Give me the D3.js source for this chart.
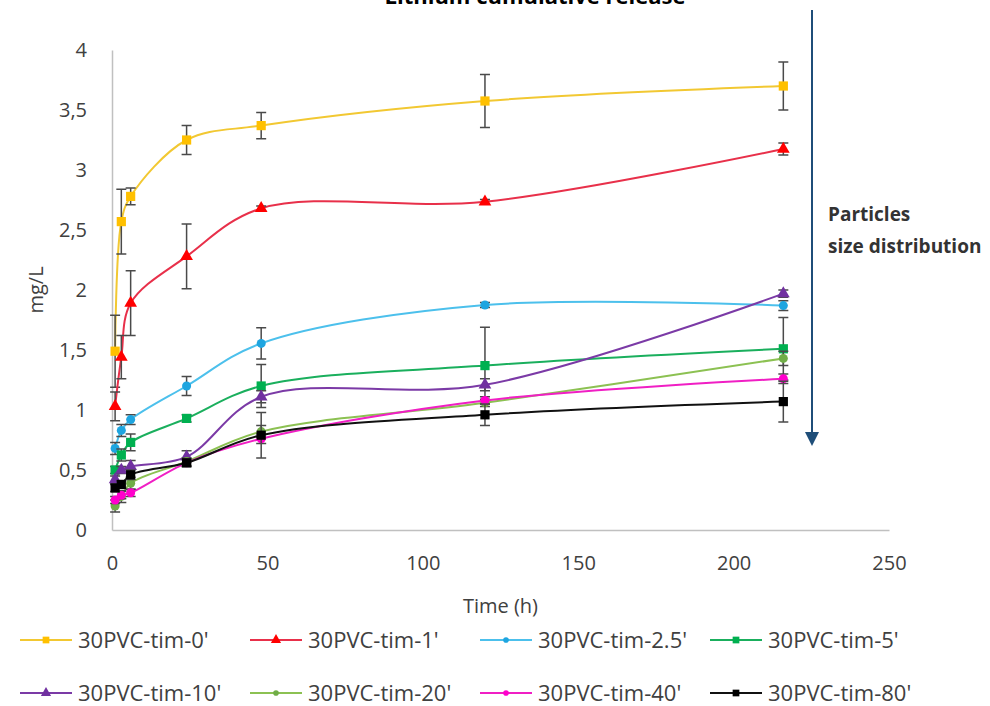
<!DOCTYPE html>
<html>
<head>
<meta charset="utf-8">
<script src="https://cdn.jsdelivr.net/npm/d3@7"></script>
<style>
  body { margin: 0; background: #fff; }
  svg { font-family: "Open Sans", sans-serif; }
</style>
</head>
<body>
<script>
// Datos
var tiempos = [1, 3, 6, 24, 48, 120, 216];
var nombres = ["30PVC-tim-0'", "30PVC-tim-1'", "30PVC-tim-2.5'", "30PVC-tim-5'",
               "30PVC-tim-10'", "30PVC-tim-20'", "30PVC-tim-40'", "30PVC-tim-80'"];

var tim0  = [1.49, 2.57, 2.78, 3.25, 3.37, 3.575, 3.70];
var tim1  = [1.03, 1.44, 1.89, 2.28, 2.68, 2.735, 3.175];
var tim25 = [0.68, 0.83, 0.92, 1.20, 1.555, 1.875, 1.87];
var tim5  = [0.50, 0.625, 0.73, 0.93, 1.20, 1.37, 1.51];
var tim10 = [0.42, 0.50, 0.53, 0.61, 1.11, 1.21, 1.97];
var tim20 = [0.20, 0.28, 0.39, 0.57, 0.82, 1.06, 1.43];
var tim40 = [0.25, 0.29, 0.31, 0.56, 0.76, 1.08, 1.26];
var tim80 = [0.35, 0.38, 0.46, 0.56, 0.79, 0.96, 1.07];

// desviaciones (barras de error)
var err0  = [0.30, 0.27, 0.07, 0.12, 0.11, 0.22, 0.20];
var err1  = [0.12, 0.18, 0.27, 0.27, 0.02, 0.02, 0.05];
var err25 = [0.05, 0.05, 0.04, 0.08, 0.13, 0.02, 0.04];
var err5  = [0.03, 0.05, 0.07, 0.03, 0.18, 0.32, 0.26];
var err10 = [0.03, 0.03, 0.05, 0.05, 0.05, 0.05, 0.03];
var err20 = [0.05, 0.05, 0.05, 0.03, 0.05, 0.03, 0.06];
var err40 = [0.03, 0.03, 0.03, 0.03, 0.04, 0.03, 0.04];
var err80 = [0.03, 0.03, 0.04, 0.03, 0.19, 0.09, 0.17];

var ticksX = [0, 50, 100, 150, 200, 250];
var ticksY = [0, 0.5, 1, 1.5, 2, 2.5, 3, 3.5, 4];

var valores = [tim0, tim1, tim25, tim5, tim10, tim20, tim40, tim80];
var errores = [err0, err1, err25, err5, err10, err20, err40, err80];
var coloresLinea = ["#f2c832", "#e8304a", "#4cc0ec", "#1aaf5d", "#7b3aa6", "#8cc152", "#f01fc4", "#111111"];
var coloresMarca = ["#ffc000", "#ff0000", "#1ea5e0", "#00b050", "#7030a0", "#70ad47", "#ff00cc", "#000000"];
var formas = ["square", "triangle", "circle", "square", "triangle", "circle", "circle", "square"];

var width = 990;
var height = 706;

var margen = { arriba: 50, abajo: 176, izquierda: 112, derecha: 101 };

var escalaX = d3.scaleLinear()
    .domain([0, 250])
    .range([margen.izquierda, width - margen.derecha]);

var escalaY = d3.scaleLinear()
    .domain([0, 4])
    .range([height - margen.abajo, margen.arriba]);

var svg = d3.select("body")
    .append("svg")
    .attr("width", width)
    .attr("height", height);

// Título (cortado en la parte superior, como en el original)
svg.append("text")
    .attr("x", 535)
    .attr("y", 4)
    .attr("text-anchor", "middle")
    .style("font-size", "22px")
    .style("font-weight", "bold")
    .attr("fill", "#000")
    .text("Lithium cumulative release");

// Ejes
var formatoComa = function (d) { return String(d).replace(".", ","); };

var ejeX = d3.axisBottom(escalaX)
    .tickValues(ticksX)
    .tickSize(0)
    .tickPadding(26);

var gX = svg.append("g")
    .attr("transform", "translate(0," + escalaY(0) + ")")
    .call(ejeX);

var ejeY = d3.axisLeft(escalaY)
    .tickValues(ticksY)
    .tickSize(0)
    .tickPadding(25)
    .tickFormat(formatoComa);

var gY = svg.append("g")
    .attr("transform", "translate(" + margen.izquierda + ",0)")
    .call(ejeY);

[gX, gY].forEach(function (g) {
    g.select(".domain").attr("stroke", "#c0c0c0").attr("stroke-width", 1.5);
    g.selectAll("text")
        .attr("fill", "#404040")
        .style("font-size", "20px")
        .style("font-family", "'Open Sans', sans-serif");
});

// Títulos de ejes
svg.append("text")
    .attr("x", escalaX(125))
    .attr("y", 613)
    .attr("text-anchor", "middle")
    .attr("fill", "#404040")
    .style("font-size", "20px")
    .text("Time (h)");

svg.append("text")
    .attr("transform", "translate(43,290) rotate(-90)")
    .attr("text-anchor", "middle")
    .attr("fill", "#404040")
    .style("font-size", "20px")
    .text("mg/L");

// Función de símbolos
function simbolo(forma, tam) {
    var tipo = forma === "square" ? d3.symbolSquare
        : forma === "triangle" ? d3.symbolTriangle : d3.symbolCircle;
    return d3.symbol().type(tipo).size(tam)();
}

var linea = d3.line()
    .x(function (d) { return escalaX(d.t); })
    .y(function (d) { return escalaY(d.v); })
    .curve(d3.curveCatmullRom.alpha(0.5));

var series = valores.map(function (vals, i) {
    return {
        nombre: nombres[i],
        puntos: vals.map(function (v, j) { return { t: tiempos[j], v: v, e: errores[i][j] }; }),
        colorLinea: coloresLinea[i],
        colorMarca: coloresMarca[i],
        forma: formas[i]
    };
});

var gSeries = svg.selectAll(".serie")
    .data(series)
    .join("g")
    .attr("class", "serie");

gSeries.append("path")
    .attr("d", function (d) { return linea(d.puntos); })
    .attr("fill", "none")
    .attr("stroke", function (d) { return d.colorLinea; })
    .attr("stroke-width", 2);

// Barras de error
gSeries.each(function (s) {
    var g = d3.select(this);
    var conError = s.puntos.filter(function (p) { return p.e > 0; });
    g.selectAll(".err")
        .data(conError)
        .join("path")
        .attr("class", "err")
        .attr("d", function (p) {
            var x = escalaX(p.t), y1 = escalaY(p.v + p.e), y2 = escalaY(p.v - p.e);
            return "M" + (x - 5) + "," + y1 + "H" + (x + 5) +
                   "M" + x + "," + y1 + "V" + y2 +
                   "M" + (x - 5) + "," + y2 + "H" + (x + 5);
        })
        .attr("fill", "none")
        .attr("stroke", "#4a4a4a")
        .attr("stroke-width", 1.5);
});

// Marcadores
gSeries.each(function (s) {
    d3.select(this).selectAll(".marca")
        .data(s.puntos)
        .join("path")
        .attr("class", "marca")
        .attr("transform", function (p) { return "translate(" + escalaX(p.t) + "," + escalaY(p.v) + ")"; })
        .attr("d", simbolo(s.forma, s.forma === "circle" ? 64 : s.forma === "triangle" ? 70 : 85))
        .attr("fill", s.colorMarca);
});

// Flecha de distribución de tamaño
svg.append("line")
    .attr("x1", 812).attr("x2", 812)
    .attr("y1", 10).attr("y2", 434)
    .attr("stroke", "#1f4e79")
    .attr("stroke-width", 2);

svg.append("path")
    .attr("d", "M805,432 L819,432 L812,446 Z")
    .attr("fill", "#1f4e79");

svg.append("text")
    .attr("x", 828)
    .attr("y", 221)
    .attr("fill", "#333")
    .style("font-size", "19px")
    .style("font-weight", "bold")
    .text("Particles");

svg.append("text")
    .attr("x", 828)
    .attr("y", 253)
    .attr("fill", "#333")
    .style("font-size", "19px")
    .style("font-weight", "bold")
    .text("size distribution");

// Leyenda en dos filas de cuatro
var leyenda = svg.selectAll(".leyenda")
    .data(series)
    .join("g")
    .attr("class", "leyenda")
    .attr("transform", function (d, i) {
        return "translate(" + (20 + (i % 4) * 230) + "," + (640 + Math.floor(i / 4) * 53) + ")";
    });

leyenda.append("line")
    .attr("x1", 0).attr("x2", 52)
    .attr("stroke", function (d) { return d.colorLinea; })
    .attr("stroke-width", 2);

leyenda.append("path")
    .attr("transform", "translate(26,0)")
    .attr("d", function (d) { return simbolo(d.forma, d.forma === "circle" ? 25 : 45); })
    .attr("fill", function (d) { return d.colorMarca; });

leyenda.append("text")
    .attr("x", 58)
    .attr("dy", "0.35em")
    .attr("fill", "#404040")
    .style("font-size", "22px")
    .text(function (d) { return d.nombre; });
</script>
</body>
</html>
